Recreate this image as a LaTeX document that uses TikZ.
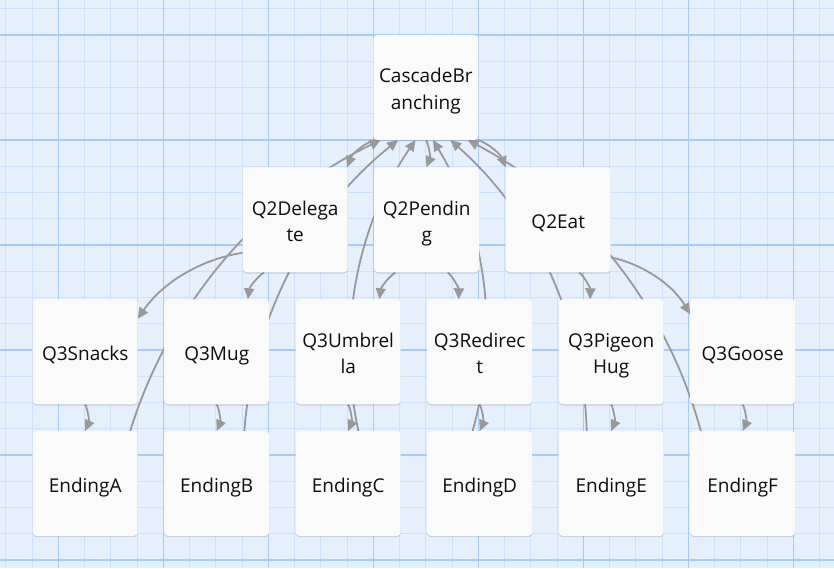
\documentclass[tikz,border=0pt]{standalone}
\usepackage{fontspec}
\setmainfont{Open Sans}
\usetikzlibrary{arrows.meta,shadows}
\definecolor{gridbg}{RGB}{230,240,253}
\definecolor{gridminor}{RGB}{206,225,250}
\definecolor{gridmajor}{RGB}{168,203,244}
\definecolor{linkgray}{RGB}{153,153,153}
\definecolor{cardfill}{RGB}{250,250,250}
\pgfdeclarelayer{background}
\pgfdeclarelayer{edges}
\pgfsetlayers{background,edges,main}
\newcommand\lnk[3]{\path (#1) -- (#2) coordinate[pos=0] (ls) coordinate[pos=1] (le); \draw[link] (ls) to[#3] (le);}
\newcommand\ct[1]{\raisebox{-3.5pt}[\height][\depth]{\begin{tabular}{@{}c@{}}#1\end{tabular}}}
\begin{document}
\begin{tikzpicture}[x=1pt,y=-1pt,
  card/.style={rectangle, fill=cardfill, rounded corners=4pt, minimum width=105pt, minimum height=105pt,
    inner sep=0pt, outer sep=0pt, text=black!95, font=\fontsize{19}{26.7}\selectfont,
    drop shadow={shadow xshift=0pt, shadow yshift=-1.2pt, opacity=0.15, fill=black}},
  link/.style={draw=linkgray, line width=1.8pt, -{Triangle[length=11pt,width=10pt]}},
  bl/.style={bend left=23.5, looseness=0.89},
  br/.style={bend right=23.5, looseness=0.89},
  minorline/.style={draw=gridminor, line width=1.1pt},
  majorline/.style={draw=gridmajor, line width=1.3pt}]
\useasboundingbox (0,0) rectangle (834,568);
\begin{pgfonlayer}{background}
  \fill[gridbg] (0,0) rectangle (834,568);
  \foreach \i in {0,...,31} \draw[minorline] ({5.8+26.25*\i},0) -- ({5.8+26.25*\i},568);
  \foreach \i in {0,...,21} \draw[minorline] (0,{8.75+26.25*\i}) -- (834,{8.75+26.25*\i});
  \foreach \i in {0,...,7} \draw[majorline] ({58.3+105*\i},0) -- ({58.3+105*\i},568);
  \foreach \i in {0,...,5} \draw[majorline] (0,{35+105*\i}) -- (834,{35+105*\i});
\end{pgfonlayer}
% nodes
\node[card] (casc) at (425.8,87.5) {\ct{CascadeBr\\anching}};
\node[card] (q2del) at (295.2,219.8) {\ct{Q2Delega\\te}};
\node[card] (q2pen) at (426.7,219.8) {\ct{Q2Pendin\\g}};
\node[card] (q2eat) at (558.2,219.8) {\ct{Q2Eat}};
\node[card] (q3sn) at (85.2,351.8) {\ct{Q3Snacks}};
\node[card] (q3mug) at (216.7,351.8) {\ct{Q3Mug}};
\node[card] (q3umb) at (348.2,351.8) {\ct{Q3Umbrel\\la}};
\node[card] (q3red) at (479.7,351.8) {\ct{Q3Redirec\\t}};
\node[card] (q3pig) at (611.2,351.8) {\ct{Q3Pigeon\\Hug}};
\node[card] (q3goo) at (742.7,351.8) {\ct{Q3Goose}};
\node[card] (enda) at (85.2,483.5) {\ct{EndingA}};
\node[card] (endb) at (216.7,483.5) {\ct{EndingB}};
\node[card] (endc) at (348.2,483.5) {\ct{EndingC}};
\node[card] (endd) at (479.7,483.5) {\ct{EndingD}};
\node[card] (ende) at (611.2,483.5) {\ct{EndingE}};
\node[card] (endf) at (742.7,483.5) {\ct{EndingF}};
% connectors
\begin{pgfonlayer}{edges}
  \lnk{casc}{q2del}{br}
  \lnk{casc}{q2pen}{bl}
  \lnk{casc}{q2eat}{bl}
  \lnk{q2del}{q3sn}{br}
  \lnk{q2del}{q3mug}{br}
  \lnk{q2pen}{q3umb}{br}
  \lnk{q2pen}{q3red}{bl}
  \lnk{q2eat}{q3pig}{bl}
  \lnk{q2eat}{q3goo}{bl}
  \lnk{q3sn}{enda}{bl}
  \lnk{q3mug}{endb}{bl}
  \lnk{q3umb}{endc}{bl}
  \lnk{q3red}{endd}{bl}
  \lnk{q3pig}{ende}{bl}
  \lnk{q3goo}{endf}{bl}
  \lnk{enda}{casc}{bl}
  \lnk{endb}{casc}{bl}
  \lnk{endc}{casc}{bl}
  \lnk{endd}{casc}{br}
  \lnk{ende}{casc}{br}
  \lnk{endf}{casc}{br}
\end{pgfonlayer}
\end{tikzpicture}
\end{document}
